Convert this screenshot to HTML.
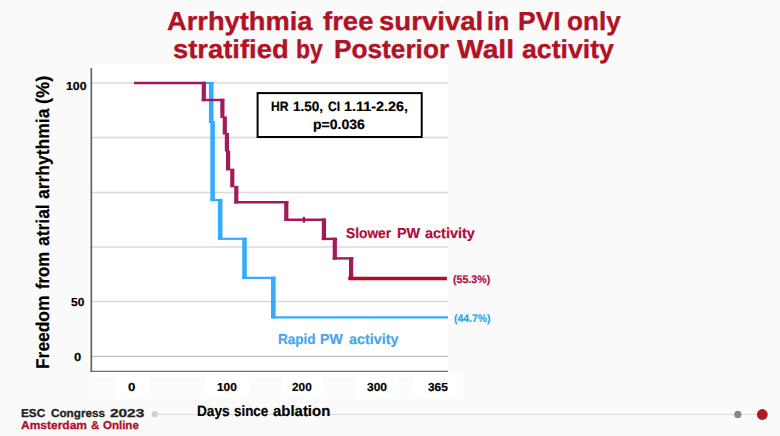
<!DOCTYPE html>
<html>
<head>
<meta charset="utf-8">
<title>Arrhythmia free survival in PVI only stratified by Posterior Wall activity</title>
<style>
  html, body { margin: 0; padding: 0; }
  body {
    width: 780px; height: 436px; overflow: hidden; position: relative;
    background: #fafafa;
    font-family: "Liberation Sans", sans-serif;
    font-weight: bold;
    text-rendering: geometricPrecision;
  }
  .ln { position: absolute; left: 0; white-space: nowrap; line-height: 1; transform-origin: 0 0; -webkit-text-stroke: 0.2px currentColor; }
  .w { position: absolute; top: 0; display: block; transform-origin: 0 0; }
  #t1, #t2 { -webkit-text-stroke: 0.35px #b11226; }
  #f1 { -webkit-text-stroke: 0.3px #222; }
  #f2 { -webkit-text-stroke: 0.3px #b01030; }
  .plotbg { position: absolute; background: #fff; }
  svg { position: absolute; left: 0; top: 0; }
</style>
</head>
<body>

<!-- title -->
<div class="ln" id="t1" style="top:8.1px; font-size:26px; color:#b11226;"><span class="w" style="left:167.27px; transform:scaleX(1.0487);">Arrhythmia</span> <span class="w" style="left:322.57px; transform:scaleX(1.057);">free</span> <span class="w" style="left:379.14px; transform:scaleX(1.0601);">survival</span> <span class="w" style="left:487.43px; transform:scaleX(0.9642);">in</span> <span class="w" style="left:517.55px; transform:scaleX(1.0169);">PVI</span> <span class="w" style="left:566.98px; transform:scaleX(1.0038);">only</span></div>
<div class="ln" id="t2" style="top:36.1px; font-size:26px; color:#b11226;"><span class="w" style="left:172.94px; transform:scaleX(1.0529);">stratified</span> <span class="w" style="left:296.07px; transform:scaleX(0.8829);">by</span> <span class="w" style="left:333.76px; transform:scaleX(1.0085);">Posterior</span> <span class="w" style="left:456.8px; transform:scaleX(1.0874);">Wall</span> <span class="w" style="left:522.48px; transform:scaleX(1.0262);">activity</span></div>

<!-- white chart background -->
<div class="plotbg" style="left:89px; top:64px; width:359px; height:313px;"></div>
<!-- x tick label white boxes -->
<div class="plotbg strip" style="left:89px; top:377px; width:374px; height:22px; background:#fcfcfc;"></div>
<div class="plotbg" style="left:116px; top:377px; width:34px; height:22px;"></div>
<div class="plotbg" style="left:205px; top:377px; width:44px; height:22px;"></div>
<div class="plotbg" style="left:282px; top:377px; width:41px; height:22px;"></div>
<div class="plotbg" style="left:356px; top:377px; width:42px; height:22px;"></div>
<div class="plotbg" style="left:413px; top:374px; width:50px; height:25px;"></div>

<!-- chart drawing -->
<svg width="780" height="436" viewBox="0 0 780 436">
  <!-- gridlines -->
  <g stroke="#dadada" stroke-width="1.7">
    <line x1="92" y1="83" x2="448" y2="83"/>
    <line x1="92" y1="137.5" x2="448" y2="137.5"/>
    <line x1="92" y1="192.5" x2="448" y2="192.5"/>
    <line x1="92" y1="247" x2="448" y2="247"/>
    <line x1="92" y1="301.5" x2="448" y2="301.5"/>
  </g>
  <line x1="92" y1="356.3" x2="448" y2="356.3" stroke="#b0b0b0" stroke-width="1"/>
  <!-- axes -->
  <line x1="91.3" y1="67.9" x2="91.3" y2="372" stroke="#6a6a6a" stroke-width="1.8"/>
  <line x1="90.4" y1="371.4" x2="448" y2="371.4" stroke="#707070" stroke-width="1.3"/>

  <!-- footer line + dots -->
  <line x1="155" y1="414.4" x2="762" y2="414.4" stroke="#d8d8d8" stroke-width="1"/>
  <circle cx="154.8" cy="414.3" r="3.1" fill="#cfcfcf"/>
  <circle cx="737.8" cy="414.4" r="3.6" fill="#878787"/>
  <circle cx="762.3" cy="414.5" r="5.4" fill="#ae1a25"/>

  <!-- blue curve: horizontals (thin) then verticals (thick) -->
  <g stroke="#35abff" fill="none">
    <g stroke-width="2.2">
      <line x1="204" y1="83" x2="213.5" y2="83"/>
      <line x1="210.4" y1="200" x2="222.2" y2="200"/>
      <line x1="218.1" y1="238.8" x2="246.6" y2="238.8"/>
      <line x1="242.3" y1="277.8" x2="275.4" y2="277.8"/>
      <line x1="271.2" y1="317.3" x2="448" y2="317.3"/>
    </g>
    <g stroke-width="4.6">
      <line x1="211.2" y1="82" x2="211.2" y2="123"/>
      <line x1="212.6" y1="121" x2="212.6" y2="201.1"/>
      <line x1="220.2" y1="198.9" x2="220.2" y2="239.9"/>
      <line x1="244.5" y1="237.7" x2="244.5" y2="278.9"/>
      <line x1="273.3" y1="276.7" x2="273.3" y2="318.4"/>
    </g>
  </g>

  <!-- red curve -->
  <g stroke="#a3195b" fill="none">
    <g stroke-width="2.4">
      <line x1="134" y1="83" x2="205.9" y2="83"/>
      <line x1="201.7" y1="100" x2="224.3" y2="100"/>
      <line x1="234" y1="202.2" x2="288.3" y2="202.2"/>
      <line x1="284.3" y1="219.8" x2="326" y2="219.8"/>
      <line x1="321.8" y1="238.9" x2="336.9" y2="238.9"/>
      <line x1="332.7" y1="258.4" x2="353.3" y2="258.4"/>
    </g>
    <g stroke-width="4.2">
      <line x1="203.8" y1="81.8" x2="203.8" y2="101.2"/>
      <line x1="222.4" y1="98.8" x2="222.4" y2="118"/>
      <line x1="224.8" y1="116.5" x2="224.8" y2="134.5"/>
      <line x1="226.9" y1="133" x2="226.9" y2="151.5"/>
      <line x1="228.1" y1="150.5" x2="228.1" y2="170.4"/>
      <line x1="232.3" y1="168.6" x2="232.3" y2="187.3"/>
      <line x1="236.3" y1="185.8" x2="236.3" y2="203.4"/>
      <line x1="286.3" y1="201" x2="286.3" y2="221"/>
      <line x1="323.9" y1="218.6" x2="323.9" y2="240.1"/>
      <line x1="334.8" y1="237.7" x2="334.8" y2="259.6"/>
      <line x1="351.1" y1="257.2" x2="351.1" y2="278"/>
    </g>
    <line x1="303.9" y1="216.8" x2="303.9" y2="222.7" stroke-width="2.4"/>
  </g>
  <line x1="348.2" y1="278.5" x2="446.9" y2="278.5" stroke="#b00a2c" stroke-width="3.3"/>

  <!-- HR box -->
  <rect x="257.6" y="93.1" width="164.1" height="43.9" fill="#fff" stroke="#000" stroke-width="2"/>
</svg>

<!-- HR box text -->
<div class="ln" id="hr1" style="top:99.5px; font-size:13.5px; color:#000;"><span class="w" style="left:270.74px; transform:scaleX(0.8969);">HR</span> <span class="w" style="left:292.96px; transform:scaleX(1.0006);">1.50,</span> <span class="w" style="left:328.12px; transform:scaleX(0.8957);">CI</span> <span class="w" style="left:344.1px; transform:scaleX(1.0649);">1.11-2.26,</span></div>
<div class="ln" id="hr2" style="top:118.2px; font-size:13.5px; color:#000;"><span class="w" style="left:313.12px; transform:scaleX(1.0404);">p=0.036</span></div>

<!-- curve labels -->
<div class="ln" id="slow" style="top:227.2px; font-size:14.4px; color:#b00a3c;"><span class="w" style="left:346.39px; transform:scaleX(0.9554);">Slower</span> <span class="w" style="left:397.1px; transform:scaleX(0.9987);">PW</span> <span class="w" style="left:424.87px; transform:scaleX(1.0042);">activity</span></div>
<div class="ln" id="rapid" style="top:332.8px; font-size:14.4px; color:#46a5eb;"><span class="w" style="left:278.15px; transform:scaleX(0.9403);">Rapid</span> <span class="w" style="left:320.32px; transform:scaleX(0.9808);">PW</span> <span class="w" style="left:348.78px; transform:scaleX(0.9961);">activity</span></div>
<div class="ln" id="p55" style="top:275.3px; font-size:11px; color:#b00a3c;"><span class="w" style="left:453.42px; transform:scaleX(0.9653);">(55.3%)</span></div>
<div class="ln" id="p44" style="top:314.3px; font-size:11px; color:#1fa9f0;"><span class="w" style="left:454.13px; transform:scaleX(0.9493);">(44.7%)</span></div>

<!-- y ticks -->
<div class="ln" id="y100" style="top:81.9px; font-size:11.5px; color:#000;"><span class="w" style="left:65.55px; transform:scaleX(1.0698);">100</span></div>
<div class="ln" id="y50" style="top:298.1px; font-size:11.5px; color:#000;"><span class="w" style="left:70.64px; transform:scaleX(1.042);">50</span></div>
<div class="ln" id="y0" style="top:353.0px; font-size:11.5px; color:#000;"><span class="w" style="left:74.09px; transform:scaleX(1.1273);">0</span></div>

<!-- x ticks -->
<div class="ln" id="x0" style="top:382.7px; font-size:11.5px; color:#000;"><span class="w" style="left:128.48px; transform:scaleX(1.1455);">0</span></div>
<div class="ln" id="x100" style="top:382.7px; font-size:11.5px; color:#000;"><span class="w" style="left:216.68px; transform:scaleX(1.031);">100</span></div>
<div class="ln" id="x200" style="top:382.7px; font-size:11.5px; color:#000;"><span class="w" style="left:292.14px; transform:scaleX(1.0276);">200</span></div>
<div class="ln" id="x300" style="top:382.7px; font-size:11.5px; color:#000;"><span class="w" style="left:366.64px; transform:scaleX(1.0437);">300</span></div>
<div class="ln" id="x365" style="top:382.7px; font-size:11.5px; color:#000;"><span class="w" style="left:427.74px; transform:scaleX(1.0353);">365</span></div>

<!-- axis titles -->
<div class="ln" id="xlab" style="top:404.2px; font-size:15px; color:#000;"><span class="w" style="left:197.25px; transform:scaleX(0.9093);">Days</span> <span class="w" style="left:234.08px; transform:scaleX(0.893);">since</span> <span class="w" style="left:272.77px; transform:scaleX(0.9957);">ablation</span></div>
<div class="ln" id="ylab" style="left:34px; top:367.8px; font-size:18.5px; color:#000; transform:rotate(-90deg);"><span class="w" style="left:-1.09px; transform:scaleX(0.9401);">Freedom</span> <span class="w" style="left:78.54px; transform:scaleX(0.9045);">from</span> <span class="w" style="left:121.63px; transform:scaleX(0.9431);">atrial</span> <span class="w" style="left:169.23px; transform:scaleX(0.9461);">arrhythmia</span> <span class="w" style="left:263.74px; transform:scaleX(0.9877);">(%)</span></div>

<!-- footer -->
<div class="ln" id="f1" style="top:408.7px; font-size:11.5px; color:#222;"><span class="w" style="left:21.03px; transform:scaleX(1.0225);">ESC</span> <span class="w" style="left:50.84px; transform:scaleX(1.0183);">Congress</span> <span class="w" style="left:110.33px; transform:scaleX(1.3367);">2023</span></div>
<div class="ln" id="f2" style="top:421.4px; font-size:11.5px; color:#b01030;"><span class="w" style="left:21.04px; transform:scaleX(1.0426);">Amsterdam</span> <span class="w" style="left:90.8px; transform:scaleX(1.0067);">&amp;</span> <span class="w" style="left:103.35px; transform:scaleX(1.0004);">Online</span></div>

</body>
</html>
